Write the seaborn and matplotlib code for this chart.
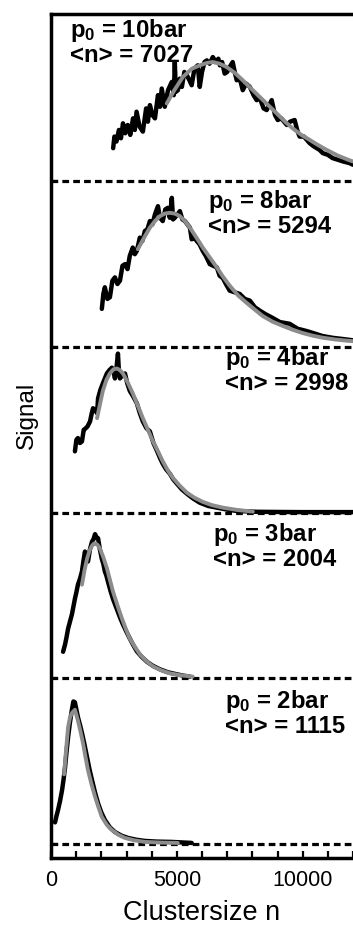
import matplotlib
matplotlib.use("Agg")
import matplotlib.pyplot as plt
from matplotlib.ticker import MultipleLocator
import seaborn as sns
import pandas as pd

# ---- data (cluster size n, normalised signal above each panel's baseline) ----
pressures = ["10bar", "8bar", "4bar", "3bar", "2bar"]
mean_sizes = [7027, 5294, 2998, 2004, 1115]

data_10bar = [(2470,0.20),(2520,0.27),(2600,0.24),(2700,0.31),(2780,0.26),(2860,0.35),(2950,0.29),
    (3050,0.34),(3150,0.28),(3260,0.38),(3330,0.31),(3400,0.42),(3520,0.33),(3650,0.30),(3780,0.44),
    (3850,0.36),(3930,0.46),(4030,0.40),(4130,0.38),(4250,0.52),(4330,0.45),(4400,0.56),(4520,0.45),
    (4650,0.55),(4800,0.60),(4880,0.52),(4920,0.72),(4960,0.54),(5040,0.55),(5120,0.62),(5200,0.57),
    (5300,0.66),(5400,0.64),(5500,0.61),(5590,0.58),(5700,0.68),(5830,0.70),(5910,0.57),(6000,0.66),
    (6100,0.72),(6190,0.73),(6300,0.71),(6430,0.75),(6550,0.72),(6650,0.74),(6710,0.70),(6800,0.72),
    (6900,0.65),(7000,0.66),(7100,0.69),(7220,0.72),(7300,0.66),(7380,0.61),(7500,0.62),(7620,0.55),
    (7750,0.59),(7900,0.57),(8050,0.52),(8170,0.49),(8300,0.50),(8450,0.44),(8570,0.43),(8670,0.46),
    (8770,0.49),(8900,0.40),(9010,0.37),(9150,0.38),(9370,0.34),(9500,0.36),(9680,0.37),(9800,0.30),
    (9880,0.27),(10050,0.27),(10280,0.23),(10450,0.21),(10670,0.19),(10800,0.17),(11000,0.16),
    (11190,0.14),(11400,0.13),(11600,0.12),(11860,0.11),(12000,0.10)]
fit_10bar = [(4600,0.47),(4900,0.55),(5240,0.63),(5600,0.68),(5910,0.70),(6200,0.715),(6430,0.72),
    (6700,0.71),(6980,0.69),(7300,0.655),(7620,0.61),(7950,0.56),(8290,0.51),(8630,0.46),(8970,0.41),
    (9300,0.36),(9600,0.32),(9950,0.28),(10280,0.25),(10600,0.22),(10950,0.19),(11400,0.155),
    (11860,0.127),(12000,0.12)]

data_8bar = [(2020,0.23),(2080,0.32),(2140,0.36),(2240,0.29),(2340,0.30),(2440,0.40),(2540,0.42),
    (2640,0.38),(2740,0.40),(2840,0.49),(2940,0.50),(3040,0.47),(3130,0.55),(3250,0.60),(3330,0.56),
    (3410,0.58),(3530,0.66),(3630,0.64),(3730,0.70),(3830,0.71),(3930,0.76),(4030,0.74),(4130,0.80),
    (4250,0.85),(4330,0.78),(4440,0.76),(4540,0.83),(4640,0.84),(4720,0.78),(4800,0.90),(4850,0.77),
    (4920,0.78),(5020,0.80),(5120,0.82),(5220,0.77),(5320,0.76),(5420,0.74),(5520,0.72),(5590,0.65),
    (5690,0.66),(5790,0.64),(5900,0.62),(6030,0.58),(6150,0.55),(6310,0.50),(6450,0.49),(6590,0.48),
    (6700,0.43),(6830,0.415),(6950,0.38),(7100,0.34),(7300,0.33),(7500,0.32),(7700,0.29),(7900,0.28),
    (8100,0.24),(8290,0.22),(8500,0.20),(8810,0.175),(9100,0.15),(9480,0.14),(9800,0.11),
    (10160,0.096),(10500,0.08),(10790,0.066),(11200,0.055),(11590,0.048),(12000,0.04)]
fit_8bar = [(3450,0.59),(3700,0.66),(3930,0.72),(4130,0.76),(4330,0.79),(4520,0.805),(4720,0.81),
    (4920,0.805),(5120,0.79),(5320,0.76),(5520,0.72),(5780,0.66),(6030,0.60),(6310,0.54),(6590,0.48),
    (6830,0.425),(7100,0.37),(7440,0.31),(7780,0.265),(8100,0.225),(8410,0.187),(8800,0.153),
    (9210,0.127),(9600,0.104),(10000,0.084),(10400,0.068),(10790,0.056),(11300,0.045),(11750,0.038),
    (12000,0.035)]

data_4bar = [(950,0.37),(1010,0.44),(1070,0.45),(1150,0.42),(1230,0.43),(1300,0.50),(1350,0.505),
    (1450,0.52),(1550,0.55),(1620,0.60),(1670,0.63),(1750,0.62),(1830,0.60),(1870,0.69),(1960,0.74),
    (2060,0.78),(2140,0.81),(2220,0.84),(2320,0.86),(2420,0.875),(2500,0.84),(2540,0.81),(2600,0.87),
    (2660,0.96),(2700,0.85),(2740,0.81),(2840,0.83),(2940,0.84),(3030,0.78),(3130,0.735),(3270,0.70),
    (3410,0.66),(3530,0.60),(3650,0.55),(3790,0.51),(3930,0.49),(4070,0.42),(4210,0.373),(4330,0.33),
    (4440,0.295),(4580,0.26),(4720,0.235),(4860,0.20),(5000,0.175),(5200,0.14),(5400,0.114),
    (5650,0.085),(5910,0.06),(6250,0.04),(6590,0.03),(7000,0.018),(7380,0.01),(8170,0.005),
    (9000,0.004),(10000,0.003),(11000,0.003),(12000,0.003)]
fit_4bar = [(1830,0.57),(1940,0.65),(2060,0.735),(2200,0.80),(2340,0.84),(2480,0.865),(2620,0.87),
    (2740,0.86),(2860,0.84),(3050,0.785),(3250,0.72),(3450,0.645),(3650,0.57),(3850,0.50),(4050,0.43),
    (4250,0.37),(4440,0.31),(4640,0.255),(4840,0.21),(5100,0.165),(5400,0.12),(5700,0.09),
    (6030,0.065),(6400,0.045),(6830,0.03),(7400,0.016),(8020,0.006)]

data_3bar = [(480,0.16),(560,0.205),(620,0.25),(680,0.30),(750,0.34),(830,0.385),(900,0.44),
    (950,0.48),(1010,0.52),(1070,0.565),(1150,0.60),(1230,0.645),(1290,0.71),(1350,0.765),(1410,0.72),
    (1470,0.705),(1550,0.78),(1630,0.825),(1690,0.84),(1750,0.87),(1810,0.85),(1870,0.845),(1940,0.78),
    (2020,0.72),(2080,0.69),(2140,0.645),(2200,0.62),(2260,0.585),(2360,0.53),(2460,0.48),(2560,0.44),
    (2660,0.40),(2760,0.36),(2860,0.325),(3000,0.28),(3130,0.24),(3270,0.20),(3410,0.163),(3600,0.13),
    (3810,0.10),(4050,0.075),(4330,0.054),(4650,0.036),(5000,0.024),(5250,0.016),(5520,0.01)]
fit_3bar = [(1230,0.565),(1330,0.65),(1430,0.72),(1530,0.77),(1630,0.80),(1700,0.812),(1750,0.815),
    (1850,0.805),(1940,0.785),(2080,0.73),(2220,0.665),(2340,0.595),(2460,0.525),(2640,0.44),
    (2820,0.36),(2980,0.295),(3130,0.24),(3330,0.19),(3530,0.145),(3780,0.105),(4050,0.072),
    (4380,0.048),(4720,0.03),(5150,0.018),(5630,0.01)]

data_2bar = [(160,0.13),(220,0.17),(280,0.205),(360,0.26),(440,0.325),(500,0.39),(560,0.465),
    (620,0.56),(680,0.645),(750,0.73),(830,0.81),(890,0.86),(950,0.855),(1010,0.81),(1070,0.765),
    (1150,0.72),(1230,0.67),(1330,0.60),(1430,0.525),(1530,0.45),(1630,0.385),(1750,0.31),(1870,0.245),
    (2000,0.19),(2140,0.145),(2340,0.10),(2540,0.072),(2800,0.05),(3060,0.036),(3400,0.025),
    (3730,0.018),(4200,0.014),(4800,0.012),(5200,0.009),(5590,0.006)]
fit_2bar = [(520,0.42),(600,0.57),(680,0.705),(750,0.76),(830,0.79),(950,0.81),(1070,0.745),
    (1170,0.68),(1270,0.61),(1370,0.525),(1470,0.445),(1610,0.36),(1750,0.285),(1890,0.22),
    (2020,0.163),(2220,0.115),(2420,0.084),(2680,0.055),(2940,0.036),(3300,0.022),(3730,0.012),
    (4400,0.008),(5040,0.006)]

x_ticks = [0, 5000, 10000]
x_tick_labels = ["0", "5000", "10000"]

all_data = [data_10bar, data_8bar, data_4bar, data_3bar, data_2bar]
all_fits = [fit_10bar, fit_8bar, fit_4bar, fit_3bar, fit_2bar]

# label placement (n position, height above baseline of the "<n>" line)
label_x = [750, 6230, 6900, 6430, 6900]
label_y = [0.72, 0.69, 0.74, 0.68, 0.67]

# ---- style ----
sns.set_style("ticks")
plt.rcParams["font.family"] = ["Liberation Sans", "DejaVu Sans"]
plt.rcParams["mathtext.fontset"] = "custom"
plt.rcParams["mathtext.rm"] = "Liberation Sans:bold"
plt.rcParams["mathtext.it"] = "Liberation Sans:bold"
plt.rcParams["mathtext.bf"] = "Liberation Sans:bold"
plt.rcParams["text.color"] = "black"
plt.rcParams["axes.labelcolor"] = "black"
plt.rcParams["xtick.color"] = "black"
plt.rcParams["ytick.color"] = "black"

fig = plt.figure(figsize=(3.53, 9.26), dpi=100)
ax = fig.add_axes([51 / 353, 68 / 926, 302 / 353, 844 / 926])

n_panels = len(pressures)
for i in range(n_panels):
    base = n_panels - 1 - i
    ax.axhline(base, color="black", lw=2.3, dashes=(2.1, 1.3), zorder=1)
    d = pd.DataFrame(all_data[i], columns=["n", "s"])
    d["s"] = d["s"] + base
    f = pd.DataFrame(all_fits[i], columns=["n", "s"])
    f["s"] = f["s"] + base
    sns.lineplot(data=d, x="n", y="s", ax=ax, color="black", lw=3.2,
                 sort=False, estimator=None, zorder=2)
    sns.lineplot(data=f, x="n", y="s", ax=ax, color="#8c8c8c", lw=2.8,
                 sort=False, estimator=None, zorder=3)
    ax.text(label_x[i], base + label_y[i],
            "p$_0$ = " + pressures[i] + "\n<n> = %d" % mean_sizes[i],
            fontsize=17.2, fontweight="bold", va="baseline", ha="left",
            linespacing=1.0, color="black", zorder=4)

ax.set_xlim(0, 12000)
ax.set_ylim(-0.085, 5.01)
ax.set_xticks(x_ticks)
ax.set_xticklabels(x_tick_labels)
ax.xaxis.set_minor_locator(MultipleLocator(1000))
ax.set_yticks([0, 1, 2, 3, 4])
ax.set_yticklabels([])
ax.tick_params(which="both", direction="in", length=5, width=1.6, top=False, right=False,
               labelsize=15.5, pad=9, colors="black")

for side in ["left", "bottom", "top"]:
    ax.spines[side].set_linewidth(2.5)
    ax.spines[side].set_color("black")
ax.spines["right"].set_visible(False)

ax.set_xlabel("Clustersize n", fontsize=19.5, color="black")
ax.set_ylabel("Signal", fontsize=17.5, color="black")
ax.xaxis.set_label_coords(0.5, -0.05)
ax.yaxis.set_label_coords(-0.043, 0.524)

fig.savefig("out.png", dpi=100)
